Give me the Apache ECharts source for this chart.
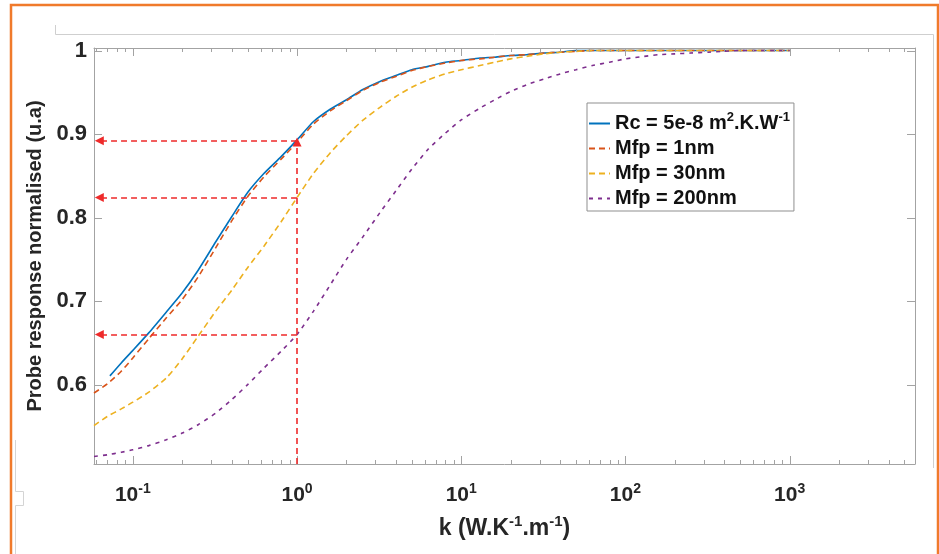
<!DOCTYPE html>
<html>
<head>
<meta charset="utf-8">
<script src="https://cdn.jsdelivr.net/npm/echarts@6/dist/echarts.min.js"></script>
<style>
  html, body { margin: 0; padding: 0; background: #ffffff; }
  #chart { width: 939px; height: 554px; }
</style>
</head>
<body>
<div id="chart"></div>
<script>
// Thermal conductivity sweep, k in W.K^-1.m^-1
const kGrid = [0.058, 0.07, 0.085, 0.1, 0.125, 0.16, 0.2, 0.25, 0.32, 0.4, 0.5, 0.63, 0.8, 1,
  1.26, 1.6, 2, 2.5, 3.2, 4, 5, 6.3, 8, 10, 13, 16, 20, 25, 32, 40, 50, 63, 80, 100,
  130, 160, 200, 250, 320, 400, 500, 630, 800, 1000];
const kRc = [0.0725, 0.085, 0.1, 0.125, 0.16, 0.2, 0.25, 0.32, 0.4, 0.5, 0.63, 0.8, 1,
  1.26, 1.6, 2, 2.5, 3.2, 4, 5, 6.3, 8, 10, 13, 16, 20, 25, 32, 40, 50, 63, 80, 100, 200, 500, 1000];

// Normalised probe response
const rcValues = [0.6105, 0.626, 0.641, 0.662, 0.687, 0.710, 0.737, 0.771, 0.801, 0.830, 0.853, 0.873, 0.893,
  0.915, 0.930, 0.941, 0.953, 0.963, 0.970, 0.977, 0.981, 0.986, 0.988, 0.991, 0.992, 0.994, 0.995, 0.997,
  0.998, 1.0, 1.0, 1.0, 1.0, 1.0, 1.0, 1.0];
const mfp1Values = [0.590, 0.601, 0.616, 0.632, 0.655, 0.680, 0.702, 0.729, 0.764, 0.796, 0.825, 0.849, 0.870, 0.890,
  0.912, 0.928, 0.940, 0.952, 0.962, 0.969, 0.976, 0.981, 0.985, 0.988, 0.990, 0.992, 0.994, 0.995, 0.997, 0.998,
  0.999, 1.0, 1.0, 1.0, 1.0, 1.0, 1.0, 1.0, 1.0, 1.0, 1.0, 1.0, 1.0, 1.0];
const mfp30Values = [0.551, 0.562, 0.571, 0.579, 0.591, 0.608, 0.631, 0.658, 0.688, 0.713, 0.740, 0.766, 0.795, 0.824,
  0.853, 0.878, 0.898, 0.916, 0.932, 0.945, 0.956, 0.965, 0.972, 0.977, 0.982, 0.986, 0.990, 0.993, 0.996, 0.998,
  0.999, 1.0, 1.0, 1.0, 1.0, 1.0, 1.0, 1.0, 1.0, 1.0, 1.0, 1.0, 1.0, 1.0];
const mfp200Values = [0.514, 0.516, 0.519, 0.522, 0.527, 0.534, 0.542, 0.552, 0.566, 0.582, 0.600, 0.620, 0.640, 0.660,
  0.688, 0.720, 0.750, 0.776, 0.806, 0.832, 0.858, 0.882, 0.901, 0.917, 0.931, 0.941, 0.951, 0.959, 0.966, 0.972,
  0.977, 0.982, 0.986, 0.990, 0.993, 0.995, 0.996, 0.997, 0.998, 0.999, 1.0, 1.0, 1.0, 1.0];

const seriesNames = ['Rc = 5e-8 m2.K.W-1', 'Mfp = 1nm', 'Mfp = 30nm', 'Mfp = 200nm'];
const legendRich = ['Rc = 5e-8 m{sup|2}.K.W{sup|-1}', 'Mfp = 1nm', 'Mfp = 30nm', 'Mfp = 200nm'];

// Axis ranges and tick values
const xRange = [0.058, 5800];
const yRange = [0.505, 1.003];
const yTickValues = [0.6, 0.7, 0.8, 0.9, 1];
const yTickLabels = ['0.6', '0.7', '0.8', '0.9', '1'];

// Read-out guides at k = 1
const markerK = 1;
const markerLevels = [0.892, 0.824, 0.660];

const FONT = "'Liberation Sans', Arial, sans-serif";
const TEXT = '#262626';
const AXIS = '#a3a3a3';
const GUIDE = '#ee2a2a';

// log-axis tick marks: decades plus 2..9 subdivisions
const xTickItems = [];
for (let d = -2; d <= 3; d++) {
  for (let m = 1; m <= 9; m++) {
    const v = m * Math.pow(10, d);
    if (v >= xRange[0] && v <= xRange[1]) xTickItems.push([v, yRange[0], m === 1 ? 8 : 4]);
  }
}
const yTickItems = yTickValues.map(v => [xRange[0], v, 8]);

const pair = (ks, vs) => ks.map((k, i) => [k, vs[i]]);

const guideLines = [
  [{ coord: [markerK, yRange[0]], symbol: 'none' },
   { coord: [markerK, markerLevels[0] - 0.0015], symbol: 'triangle', symbolSize: [9, 9] }]
].concat(markerLevels.map(v => [
  { coord: [markerK, v], symbol: 'none' },
  { coord: [0.0625, v], symbol: 'triangle', symbolSize: [9, 9] }
]));

const chart = echarts.init(document.getElementById('chart'), null, { renderer: 'canvas' });

const sup = { fontSize: 14, fontWeight: 'bold', fontFamily: FONT, verticalAlign: 'top', lineHeight: 12, color: TEXT };

chart.setOption({
  animation: false,
  backgroundColor: '#ffffff',
  grid: { left: 94, top: 48, width: 821, height: 416, containLabel: false },
  legend: {
    data: seriesNames,
    orient: 'vertical',
    left: 587,
    top: 103,
    padding: [8, 4, 0, 1],
    itemGap: 0,
    itemWidth: 21,
    itemHeight: 2,
    itemStyle: { opacity: 0 },
    backgroundColor: '#ffffff',
    borderColor: '#8f8f8f',
    borderWidth: 1,
    borderRadius: 0,
    selectedMode: false,
    formatter: name => legendRich[seriesNames.indexOf(name)],
    textStyle: {
      fontFamily: FONT, fontWeight: 'bold', fontSize: 20, color: '#111', lineHeight: 25,
      rich: { sup: Object.assign({}, sup, { color: '#111', fontSize: 13 }) }
    }
  },
  xAxis: [{
    type: 'log', logBase: 10, min: xRange[0], max: xRange[1], position: 'bottom',
    name: 'k (W.K{sup|-1}.m{sup|-1})', nameLocation: 'middle', nameGap: 50,
    nameTextStyle: { fontFamily: FONT, fontWeight: 'bold', fontSize: 23, color: TEXT, lineHeight: 30,
      rich: { sup: Object.assign({}, sup, { fontSize: 15 }) } },
    axisLine: { show: true, lineStyle: { color: AXIS, width: 1 } },
    axisTick: { show: false },
    splitLine: { show: false },
    axisLabel: {
      show: true, interval: 0, margin: 18, showMinLabel: false, showMaxLabel: false,
      fontFamily: FONT, fontWeight: 'bold', fontSize: 21, color: TEXT, lineHeight: 26,
      formatter: v => {
        const e = Math.log10(v);
        if (Math.abs(e - Math.round(e)) > 1e-6) return '';
        return '10{sup|' + Math.round(e) + '}';
      },
      rich: { sup: sup }
    }
  }, {
    type: 'log', logBase: 10, min: xRange[0], max: xRange[1], position: 'top',
    axisLine: { show: true, lineStyle: { color: AXIS, width: 1 } },
    axisTick: { show: false }, axisLabel: { show: false }, splitLine: { show: false }
  }],
  yAxis: [{
    type: 'value', min: yRange[0], max: yRange[1], position: 'left',
    name: 'Probe response normalised (u.a)', nameLocation: 'middle', nameGap: 39, nameRotate: 90,
    nameTextStyle: { fontFamily: FONT, fontWeight: 'bold', fontSize: 20, color: TEXT },
    axisLine: { show: true, lineStyle: { color: AXIS, width: 1 } },
    axisTick: { show: false },
    splitLine: { show: false },
    axisLabel: {
      customValues: yTickValues, margin: 7,
      fontFamily: FONT, fontWeight: 'bold', fontSize: 22, color: TEXT, padding: [4, 0, 0, 0],
      formatter: v => yTickLabels[yTickValues.findIndex(t => Math.abs(t - v) < 1e-9)] || ''
    }
  }, {
    type: 'value', min: yRange[0], max: yRange[1], position: 'right',
    axisLine: { show: true, lineStyle: { color: AXIS, width: 1 } },
    axisTick: { show: false }, axisLabel: { show: false }, splitLine: { show: false }
  }],
  series: [
    {
      name: seriesNames[0], type: 'line', data: pair(kRc, rcValues), showSymbol: false, symbol: 'none', smooth: 0.2,
      lineStyle: { color: '#0072BD', width: 1.6 }, itemStyle: { color: '#0072BD' }, z: 3
    },
    {
      name: seriesNames[1], type: 'line', data: pair(kGrid, mfp1Values), showSymbol: false, symbol: 'none', smooth: 0.2,
      lineStyle: { color: '#D95319', width: 1.6, type: [6, 4] }, itemStyle: { color: '#D95319' }, z: 4
    },
    {
      name: seriesNames[2], type: 'line', data: pair(kGrid, mfp30Values), showSymbol: false, symbol: 'none', smooth: 0.2,
      lineStyle: { color: '#EDB120', width: 1.6, type: [6, 4] }, itemStyle: { color: '#EDB120' }, z: 4
    },
    {
      name: seriesNames[3], type: 'line', data: pair(kGrid, mfp200Values), showSymbol: false, symbol: 'none', smooth: 0.2,
      lineStyle: { color: '#7E2F8E', width: 1.6, type: [4, 5] }, itemStyle: { color: '#7E2F8E' }, z: 4,
      markLine: {
        silent: true, animation: false, z: 6,
        label: { show: false },
        lineStyle: { color: GUIDE, width: 1.6, type: [6, 4] },
        itemStyle: { color: GUIDE },
        emphasis: { disabled: true },
        data: guideLines
      }
    },
    {
      // tick marks along the bottom and top frame
      type: 'custom', silent: true, z: 5, clip: false,
      encode: { x: 0, y: 1 },
      data: xTickItems,
      renderItem: (params, api) => {
        const cs = params.coordSys;
        const x = Math.round(api.coord([api.value(0), yRange[0]])[0]) + 0.5;
        const len = api.value(2);
        const style = { stroke: AXIS, lineWidth: 1 };
        return { type: 'group', children: [
          { type: 'line', shape: { x1: x, y1: cs.y + cs.height, x2: x, y2: cs.y + cs.height - len }, style },
          { type: 'line', shape: { x1: x, y1: cs.y, x2: x, y2: cs.y + len }, style }
        ] };
      }
    },
    {
      // tick marks along the left and right frame
      type: 'custom', silent: true, z: 5, clip: false,
      encode: { x: 0, y: 1 },
      data: yTickItems,
      renderItem: (params, api) => {
        const cs = params.coordSys;
        const y = Math.round(api.coord([xRange[0], api.value(1)])[1]) + 0.5;
        const len = api.value(2);
        const style = { stroke: AXIS, lineWidth: 1 };
        return { type: 'group', children: [
          { type: 'line', shape: { x1: cs.x, y1: y, x2: cs.x + len, y2: y }, style },
          { type: 'line', shape: { x1: cs.x + cs.width, y1: y, x2: cs.x + cs.width - len, y2: y }, style }
        ] };
      }
    }
  ],
  graphic: [
    // page frame around the figure
    { type: 'line', silent: true, z: 0, shape: { x1: 55.5, y1: 34.5, x2: 933.5, y2: 34.5 }, style: { stroke: '#cfcfcf', lineWidth: 1 } },
    { type: 'line', silent: true, z: 0, shape: { x1: 55.5, y1: 25, x2: 55.5, y2: 34.5 }, style: { stroke: '#cfcfcf', lineWidth: 1 } },
    { type: 'line', silent: true, z: 0, shape: { x1: 933.5, y1: 34.5, x2: 933.5, y2: 468 }, style: { stroke: '#cfcfcf', lineWidth: 1 } },
    { type: 'polyline', silent: true, z: 0, shape: { points: [[15.5, 440], [15.5, 491.5], [23.5, 491.5], [23.5, 505.5], [15.5, 505.5], [15.5, 554]] }, style: { stroke: '#d4d4d4', fill: null, lineWidth: 1 } },
    { type: 'polyline', silent: true, z: 0, shape: { points: [[11, 554], [11, 5], [938, 5], [938, 554]] }, style: { stroke: '#f07a2b', fill: null, lineWidth: 2.5 } }
  ]
});
</script>
</body>
</html>
